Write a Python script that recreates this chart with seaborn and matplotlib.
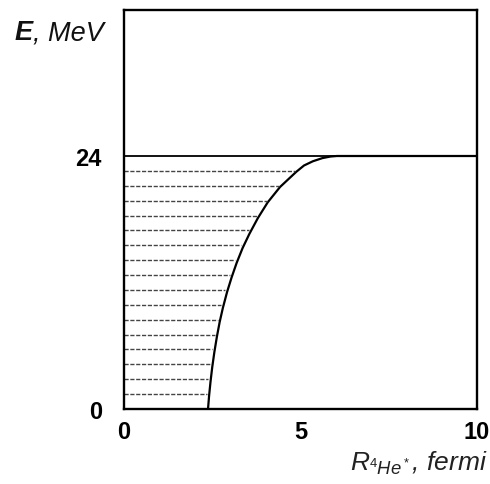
import numpy as np
import pandas as pd
import matplotlib
matplotlib.use("Agg")
import matplotlib.pyplot as plt
import seaborn as sns

# Curve data (R in fermi, E in MeV)
R_vals = [2.38, 2.41, 2.45, 2.50, 2.56, 2.63, 2.71, 2.80, 2.92, 3.05, 3.19,
          3.36, 3.55, 3.79, 4.07, 4.42, 4.88, 5.10, 5.35, 5.62, 5.85, 6.03, 10.0]
E_vals = [0.0, 1.23, 2.56, 3.98, 5.4, 6.83, 8.25, 9.58, 11.1, 12.5, 13.85,
          15.27, 16.6, 18.1, 19.6, 21.06, 22.5, 23.1, 23.5, 23.8, 23.95, 24.0, 24.0]
# Energy levels of dashed fill lines
level_E = [1.41, 2.82, 4.24, 5.65, 7.06, 8.47, 9.88, 11.29, 12.71, 14.12,
           15.53, 16.94, 18.35, 19.76, 21.18, 22.59]
x_ticks = [0, 5, 10]
x_ticklabels = ["0", "5", "10"]
y_ticks = [0, 24]
y_ticklabels = ["0", "24"]
E_top = 24

sns.set_style("white")
plt.rcParams["font.family"] = ["Liberation Sans", "DejaVu Sans"]
plt.rcParams["mathtext.fontset"] = "custom"
plt.rcParams["mathtext.rm"] = "Liberation Sans"
plt.rcParams["mathtext.it"] = "Liberation Sans:italic"
plt.rcParams["mathtext.bf"] = "Liberation Sans:bold"

fig = plt.figure(figsize=(4.9, 4.85), dpi=100)
ax = fig.add_axes([124/490, 75/485, 353/490, 399/485])

df = pd.DataFrame({"R": R_vals, "E": E_vals})
sns.lineplot(data=df, x="R", y="E", ax=ax, color="black", linewidth=1.6,
             sort=False, estimator=None)

ax.axhline(E_top, color="black", linewidth=1.3)

# dashed horizontal lines from R=0 to just left of the curve
ends = np.interp(level_E, E_vals[:-1], R_vals[:-1]) - 0.07
ax.hlines(level_E, 0.0, ends, colors="#444444", linewidth=1.0,
          linestyles=(0, (3, 1.2)))

ax.set_xlim(0, 10)
ax.set_ylim(0, 37.85)
ax.set_xticks(x_ticks)
ax.set_xticklabels(x_ticklabels, fontsize=17, fontweight="bold")
ax.set_yticks(y_ticks)
ax.set_yticklabels(y_ticklabels, fontsize=17, fontweight="bold")
ax.tick_params(axis="x", direction="in", length=11, width=1.2, pad=8,
               colors="black")
ax.tick_params(axis="y", length=0, pad=16, colors="black")
for s in ax.spines.values():
    s.set_visible(True)
    s.set_color("black")
    s.set_linewidth(1.7)
ax.set_xlabel("")
ax.set_ylabel("")

t1 = fig.text(15/490, 1 - 40/485, "E", fontsize=19.5, fontweight="bold",
              fontstyle="italic", va="baseline", ha="left", color="#111111")
ax.annotate(", MeV", xy=(1, 0), xycoords=t1, va="bottom", ha="left",
            fontsize=19.5, fontstyle="italic", color="#111111")

fig.text(488/490, 1 - 471/485, r"$R_{^4He^*}$, fermi", fontsize=19,
         fontstyle="italic", ha="right", va="baseline", color="#222222")

fig.savefig("out.png", dpi=100)
